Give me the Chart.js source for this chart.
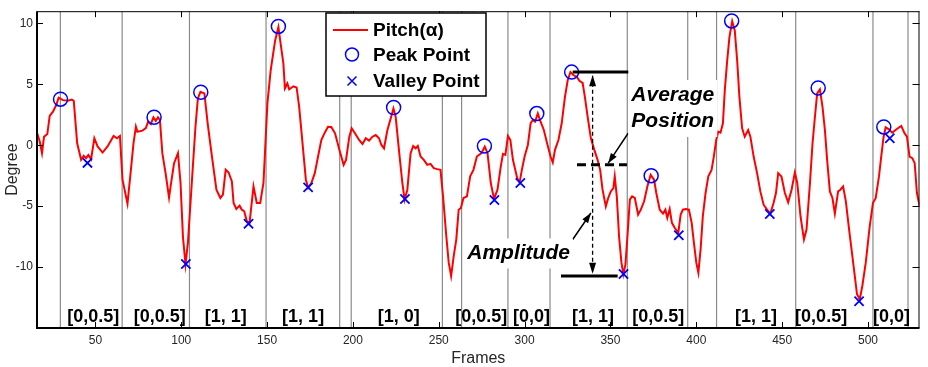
<!DOCTYPE html>
<html>
<head>
<meta charset="utf-8">
<title>Pitch peaks and valleys</title>
<script src="https://cdn.jsdelivr.net/npm/chart.js@4.4.1/dist/chart.umd.min.js"></script>
<style>
  html, body { margin: 0; padding: 0; background: #fff; }
  #chart { display: block; }
</style>
</head>
<body>
<canvas id="chart" width="928" height="367"></canvas>
<script>
// ── Data ─────────────────────────────────────────────────
var frames = [
  16, 17.6, 18.9, 20.1, 22.0, 23.4, 25.3, 27.2, 28.6, 31.1, 34.0, 36.3, 37.4, 39.4, 41.7, 43.2, 44.6, 45.9, 47.5, 49.4,
  51.3, 54.2, 57.1, 60.6, 62.6, 64.3, 65.8, 68.7, 70.7, 72.2, 73.6, 74.5, 77.4, 79.4, 80.7, 82.3, 83.8, 85.2, 86.5, 87.6,
  89.0, 90.9, 92.9, 93.8, 95.8, 98.1, 99.6, 101.0, 102.5, 103.9, 106.4, 108.3, 109.7, 111.2, 113.5, 115.4, 117.9, 120.5, 122.8, 124.3,
  125.9, 127.6, 129.5, 130.5, 132.1, 134.0, 135.3, 136.7, 138.2, 139.8, 142.1, 144.0, 146.0, 147.9, 150.2, 152.1, 154.7, 156.6, 157.9, 159.5,
  160.4, 161.8, 162.9, 165.3, 167.2, 168.7, 171.0, 172.6, 173.9, 175.8, 177.8, 179.7, 181.6, 183.6, 185.5, 187.4, 189.6, 192.1, 194.6, 196.0,
  197.9, 199.3, 201.2, 203.6, 205.6, 207.5, 209.4, 211.4, 213.3, 215.2, 216.6, 218.1, 220.1, 222.0, 223.6, 224.9, 226.8, 228.8, 230.1, 231.7,
  233.6, 235.1, 236.5, 237.8, 239.4, 241.3, 243.3, 245.2, 247.1, 249.1, 251.0, 252.5, 254.4, 255.8, 257.2, 258.7, 260.2, 261.6, 262.9, 264.4,
  266.4, 268.3, 270.2, 272.2, 274.9, 276.8, 278.4, 280.3, 282.2, 284.2, 286.1, 287.4, 288.8, 290.3, 291.7, 293.2, 295.7, 297.1, 298.4, 300.0,
  301.9, 303.5, 304.8, 306.1, 307.7, 309.3, 311.2, 313.1, 315.1, 316.4, 317.7, 319.7, 321.6, 323.5, 325.1, 326.7, 328.6, 330.5, 331.9, 333.8,
  335.1, 336.7, 338.6, 340.6, 342.5, 344.0, 345.4, 347.3, 348.7, 350.2, 351.7, 352.5, 353.7, 355.0, 356.4, 357.5, 358.7, 359.9, 361.3, 362.6,
  364.2, 366.1, 367.7, 369.6, 371.5, 373.4, 375.4, 376.7, 378.7, 380.6, 382.0, 383.1, 384.5, 385.8, 387.4, 389.5, 390.9, 392.2, 393.8, 395.7,
  397.3, 398.6, 400.0, 401.2, 402.5, 403.8, 405.4, 407.0, 408.9, 410.2, 411.6, 412.8, 414.1, 415.5, 416.6, 418.0, 419.3, 420.9, 422.4, 423.8,
  425.1, 426.7, 428.2, 430.2, 431.5, 433.4, 435.4, 437.3, 439.2, 441.2, 443.1, 445.0, 446.4, 447.7, 449.6, 451.6, 453.5, 455.5, 457.4, 458.8,
  460.7, 462.7, 464.2, 466.2, 467.7, 469.1, 470.4, 472.0, 473.5, 474.9, 476.2, 477.8, 479.3, 480.7, 482.6, 483.9, 485.5, 487.1, 489.0, 490.9,
  492.3, 493.6, 495.2, 496.7, 498.7, 501.0, 502.9, 504.5, 506.4, 507.7, 509.1, 510.3, 512.2, 514.1, 515.5, 517.4, 519.4, 521.3, 522.7, 524.2,
  525.8, 527.2, 528.5, 530.1
];
var pitch = [
  1.03, 0.3, -0.65, 0.7, 0.92, 2.4, 2.75, 3.3, 3.9, 3.7, 3.65, 3.75, 3.65, 0.16, -1.2, -0.87, -1.06, -0.8, -1.15, 0.57,
  -0.1, -0.6, -0.1, 0.76, 0.57, 0.76, -2.83, -4.8, -2.0, 0.16, 1.52, 1.1, 1.2, 1.4, 1.93, 1.74, 2.29, 2.0, 2.29, 2.07,
  -0.65, -2.3, -4.3, -3.4, -1.5, -0.65, -3.1, -7.5, -9.78, -8.0, -2.56, 1.52, 3.84, 4.38, 4.25, 1.8, -0.93, -3.65, -4.33, -4.06,
  -2.0, -2.24, -2.97, -4.74, -5.23, -4.96, -5.29, -5.42, -6.24, -6.37, -3.38, -4.74, -4.74, -3.1, 3.43, 6.15, 8.6, 9.69, 8.33, 6.7,
  4.66, 5.07, 4.58, 4.84, 4.74, 3.15, -0.38, -2.83, -3.5, -3.1, -2.29, -0.93, 0.43, 1.03, 1.52, 1.5, 0.98, -0.38, -1.61, -1.2,
  0.7, 1.39, 0.98, 0.43, 0.1, 0.57, 0.38, 0.7, 0.84, 0.57, 0.02, -0.25, 1.25, 2.2, 3.02, 2.34, -0.38, -3.1, -4.47, -3.65,
  -0.65, -0.06, -0.25, -0.06, -0.93, -1.2, -1.61, -1.53, -1.88, -1.96, -2.02, -4.2, -7.47, -9.64, -10.73, -9.1, -7.74, -5.29, -5.15, -4.33,
  -4.2, -2.56, -2.02, -0.93, -0.65, -0.11, -0.65, -3.1, -4.4, -3.65, -1.75, -0.71, -0.79, 0.76, 0.43, -1.2, -2.7, -3.05, -2.02, -0.93,
  0.02, 1.8, 2.07, 1.93, 2.61, 1.93, 1.25, 0.16, -0.93, -1.42, -0.38, 0.43, 1.8, 3.97, 5.33, 6.01, 5.74, 5.6, 5.28, 5.11,
  3.97, 2.34, 0.57, -0.38, -1.2, -2.02, -3.65, -5.02, -4.33, -3.79, -3.51, -2.56, -4.2, -7.47, -9.64, -10.6, -9.8, -7.47, -4.47, -4.2,
  -4.33, -5.69, -5.29, -4.6, -3.38, -2.43, -2.83, -3.92, -5.29, -5.61, -5.29, -5.96, -5.23, -6.37, -6.78, -7.2, -5.69, -5.29, -5.23, -5.29,
  -6.37, -8.0, -9.64, -10.46, -8.55, -5.83, -3.92, -2.56, -2.02, -0.93, 0.43, 1.11, 1.03, 1.8, 4.52, 6.97, 8.87, 10.18, 9.42, 6.97,
  3.97, 1.39, 0.7, 1.25, 0.7, -0.93, -2.29, -3.79, -4.88, -5.29, -5.61, -4.74, -3.92, -2.29, -2.56, -3.92, -4.69, -3.65, -2.24, -3.1,
  -5.83, -7.74, -6.92, -3.1, 0.16, 2.34, 4.25, 4.58, 3.15, 1.25, -1.2, -3.79, -4.33, -5.61, -3.79, -3.65, -3.38, -4.6, -6.92, -9.1,
  -10.73, -12.23, -12.64, -11.55, -9.64, -6.65, -4.74, -4.33, -2.56, -0.93, 0.7, 1.47, 1.31, 1.03, 1.19, 1.39, 1.58, 0.98, 0.7, -0.93,
  -1.06, -1.47, -3.92, -5.02
];

var peakFrames = [29.7, 84.2, 111.4, 156.6, 223.7, 276.6, 307.1, 327.4, 373.7, 420.6, 471.0, 509.2];
var peakValues = [3.78, 2.3, 4.35, 9.75, 3.1, -0.06, 2.6, 6.0, -2.5, 10.2, 4.7, 1.5];

var valleyFrames = [45.4, 102.7, 139.2, 173.9, 230.3, 282.4, 297.5, 357.6, 389.8, 442.8, 494.8, 512.7];
var valleyValues = [-1.45, -9.75, -6.45, -3.46, -4.41, -4.5, -3.1, -10.57, -7.39, -5.64, -12.8, 0.57];

var boundaryFrames = [29.6, 65.6, 104.8, 149.4, 192.3, 199.0, 252.1, 263.3, 290.3, 314.8, 359.8, 395.0, 411.8, 457.9, 502.9, 523.3];

var segmentLabels = ['[0,0.5]', '[0,0.5]', '[1, 1]', '[1, 1]', '[1, 0]', '[0,0.5]', '[0,0]', '[1, 1]', '[0,0.5]', '[1, 1]', '[0,0.5]', '[0,0]'];
var segmentLabelFrames = [48.7, 87.5, 125.9, 171.0, 226.7, 274.8, 304.0, 339.9, 377.8, 434.8, 472.7, 513.7];

var xTickValues = [50, 100, 150, 200, 250, 300, 350, 400, 450, 500];
var yTickValues = [-10, -5, 0, 5, 10];

var seriesNames = ['Pitch(\u03b1)', 'Peak Point', 'Valley Point'];

// ── Styles ───────────────────────────────────────────────
var FONT = "'Liberation Sans', Arial, Helvetica, sans-serif";
var RED = '#ff0000';
var BLUE = '#0000ff';
var TEXT = '#262626';

function zip(xs, ys) {
  return xs.map(function (x, i) { return { x: x, y: ys[i] }; });
}

// vertical segment boundaries, one broken line
var boundaryPoints = [];
boundaryFrames.forEach(function (f) {
  boundaryPoints.push({ x: f, y: -15 }, { x: f, y: 11 }, { x: f, y: null });
});

// ── Annotation plugin: bracket labels, amplitude/average marks ──
function arrowHead(ctx, x0, y0, x1, y1, len, half) {
  var a = Math.atan2(y1 - y0, x1 - x0);
  ctx.beginPath();
  ctx.moveTo(x1, y1);
  ctx.lineTo(x1 - len * Math.cos(a) + half * Math.sin(a), y1 - len * Math.sin(a) - half * Math.cos(a));
  ctx.lineTo(x1 - len * Math.cos(a) - half * Math.sin(a), y1 - len * Math.sin(a) + half * Math.cos(a));
  ctx.closePath();
  ctx.fill();
}

function boxedText(ctx, lines, cx, cy, lineH) {
  var w = 0;
  lines.forEach(function (t) { w = Math.max(w, ctx.measureText(t).width); });
  var h = lineH * lines.length;
  ctx.fillStyle = '#fff';
  ctx.fillRect(cx - w / 2 - 3, cy - h / 2 - 2, w + 6, h + 4);
  ctx.fillStyle = '#000';
  lines.forEach(function (t, i) {
    ctx.fillText(t, cx, cy - h / 2 + lineH * (i + 0.5));
  });
}

var annotations = {
  id: 'annotations',
  afterDatasetsDraw: function (chart) {
    var ctx = chart.ctx;
    var xs = chart.scales.x, ys = chart.scales.y;
    var X = function (v) { return xs.getPixelForValue(v); };
    var Y = function (v) { return ys.getPixelForValue(v); };
    ctx.save();

    // amplitude bracket
    ctx.strokeStyle = '#000';
    ctx.fillStyle = '#000';
    ctx.lineWidth = 3;
    ctx.beginPath();
    ctx.moveTo(X(328), Y(6.02)); ctx.lineTo(X(360.4), Y(6.02));
    ctx.moveTo(X(321.2), Y(-10.73)); ctx.lineTo(X(354.2), Y(-10.73));
    ctx.stroke();

    ctx.setLineDash([9, 5]);
    ctx.beginPath();
    ctx.moveTo(X(330.5), Y(-1.6)); ctx.lineTo(X(359.6), Y(-1.6));
    ctx.stroke();

    var vx = X(339.6);
    ctx.lineWidth = 1.3;
    ctx.setLineDash([4, 3]);
    ctx.beginPath();
    ctx.moveTo(vx, Y(5.7)); ctx.lineTo(vx, Y(-10.4));
    ctx.stroke();
    ctx.setLineDash([]);
    arrowHead(ctx, vx, Y(0), vx, Y(5.75), 11, 3.5);
    arrowHead(ctx, vx, Y(0), vx, Y(-10.55), 11, 3.5);

    // pointer arrows
    ctx.lineWidth = 1.5;
    ctx.beginPath();
    ctx.moveTo(X(328.0), Y(-7.74)); ctx.lineTo(X(338.6), Y(-5.56));
    ctx.moveTo(X(360.3), Y(0.98)); ctx.lineTo(X(348.7), Y(-1.47));
    ctx.stroke();
    arrowHead(ctx, X(328.0), Y(-7.74), X(338.6), Y(-5.56), 10, 3.5);
    arrowHead(ctx, X(360.3), Y(0.98), X(348.7), Y(-1.47), 10, 3.5);

    // labels with white boxes
    ctx.font = 'italic bold 21px ' + FONT;
    ctx.textAlign = 'center';
    ctx.textBaseline = 'middle';
    boxedText(ctx, ['Amplitude'], X(296.5), Y(-8.88), 26);
    boxedText(ctx, ['Average', 'Position'], X(386.3), Y(3.02), 26.5);

    // segment labels along the bottom
    ctx.font = 'bold 18px ' + FONT;
    ctx.fillStyle = '#000';
    segmentLabels.forEach(function (t, i) {
      ctx.fillText(t, X(segmentLabelFrames[i]), Y(-14.1));
    });
    ctx.restore();
  }
};

// ── Frame plugin: box, inward ticks and legend ───────────
var frameAndLegend = {
  id: 'frameAndLegend',
  afterDraw: function (chart) {
    var ctx = chart.ctx;
    var a = chart.chartArea;
    var xs = chart.scales.x, ys = chart.scales.y;
    ctx.save();
    ctx.strokeStyle = '#000';

    ctx.lineWidth = 1;
    ctx.beginPath();
    ctx.moveTo(a.left, a.top + 0.5); ctx.lineTo(a.right, a.top + 0.5);
    ctx.moveTo(a.right - 0.5, a.top); ctx.lineTo(a.right - 0.5, a.bottom);
    xTickValues.forEach(function (v) {
      var p = Math.round(xs.getPixelForValue(v)) + 0.5;
      ctx.moveTo(p, a.bottom); ctx.lineTo(p, a.bottom - 6);
      ctx.moveTo(p, a.top); ctx.lineTo(p, a.top + 6);
    });
    yTickValues.forEach(function (v) {
      var p = Math.round(ys.getPixelForValue(v)) + 0.5;
      ctx.moveTo(a.left, p); ctx.lineTo(a.left + 6, p);
      ctx.moveTo(a.right, p); ctx.lineTo(a.right - 7, p);
    });
    ctx.stroke();

    ctx.lineWidth = 2;
    ctx.beginPath();
    ctx.moveTo(a.left, a.top); ctx.lineTo(a.left, a.bottom);
    ctx.lineTo(a.right, a.bottom);
    ctx.stroke();

    // legend box
    var lx = 326, ly = 13, lw = 160, lh = 83;
    ctx.fillStyle = '#fff';
    ctx.fillRect(lx, ly, lw, lh);
    ctx.lineWidth = 1.5;
    ctx.strokeRect(lx, ly, lw, lh);

    var rows = [30, 54.5, 81];
    var sx = 352;
    ctx.strokeStyle = RED;
    ctx.lineWidth = 2;
    ctx.beginPath();
    ctx.moveTo(333, rows[0]); ctx.lineTo(368, rows[0]);
    ctx.stroke();

    ctx.strokeStyle = BLUE;
    ctx.lineWidth = 1.5;
    ctx.beginPath();
    ctx.arc(sx, rows[1], 6.5, 0, Math.PI * 2);
    ctx.stroke();
    ctx.beginPath();
    ctx.moveTo(sx - 4.5, rows[2] - 4.5); ctx.lineTo(sx + 4.5, rows[2] + 4.5);
    ctx.moveTo(sx - 4.5, rows[2] + 4.5); ctx.lineTo(sx + 4.5, rows[2] - 4.5);
    ctx.stroke();

    ctx.fillStyle = '#000';
    ctx.font = 'bold 19px ' + FONT;
    ctx.textAlign = 'left';
    ctx.textBaseline = 'middle';
    seriesNames.forEach(function (t, i) {
      ctx.fillText(t, 373, rows[i] + 1);
    });
    ctx.restore();
  }
};

new Chart(document.getElementById('chart'), {
  type: 'line',
  data: {
    datasets: [
      {
        label: seriesNames[1],
        data: zip(peakFrames, peakValues),
        showLine: false,
        pointStyle: 'circle',
        pointRadius: 7,
        pointBorderWidth: 1.5,
        pointBorderColor: BLUE,
        pointBackgroundColor: 'rgba(0,0,0,0)',
        order: 1
      },
      {
        label: seriesNames[2],
        data: zip(valleyFrames, valleyValues),
        showLine: false,
        pointStyle: 'crossRot',
        pointRadius: 6.5,
        pointBorderWidth: 1.8,
        pointBorderColor: BLUE,
        order: 1
      },
      {
        label: seriesNames[0],
        data: zip(frames, pitch),
        borderColor: RED,
        borderWidth: 2,
        pointRadius: 0,
        tension: 0,
        order: 2
      },
      {
        label: 'boundaries',
        data: boundaryPoints,
        borderColor: '#8a8a8a',
        borderWidth: 1.2,
        pointRadius: 0,
        spanGaps: false,
        order: 5
      }
    ]
  },
  options: {
    responsive: false,
    animation: false,
    devicePixelRatio: 1,
    layout: { padding: { left: 0, right: 3, top: 11, bottom: 0 } },
    plugins: {
      legend: { display: false },
      tooltip: { enabled: false }
    },
    scales: {
      x: {
        type: 'linear',
        min: 16,
        max: 530,
        grid: { display: false, drawTicks: false },
        border: { display: false },
        afterBuildTicks: function (s) { s.ticks = xTickValues.map(function (v) { return { value: v }; }); },
        afterFit: function (s) { s.height = 39; },
        ticks: { padding: 5, color: TEXT, font: { family: FONT, size: 12 }, autoSkip: false, maxRotation: 0 },
        title: { display: true, text: 'Frames', color: TEXT, font: { family: FONT, size: 16, lineHeight: 1 }, padding: { top: 0, bottom: 0 } }
      },
      y: {
        min: -15,
        max: 11,
        grid: { display: false, drawTicks: false },
        border: { display: false },
        afterBuildTicks: function (s) { s.ticks = yTickValues.map(function (v) { return { value: v }; }); },
        afterFit: function (s) { s.width = 37; },
        ticks: { padding: 4, color: TEXT, font: { family: FONT, size: 12 }, autoSkip: false },
        title: { display: true, text: 'Degree', color: TEXT, font: { family: FONT, size: 16 }, padding: { top: 3, bottom: 0 } }
      }
    }
  },
  plugins: [annotations, frameAndLegend]
});
</script>
</body>
</html>
